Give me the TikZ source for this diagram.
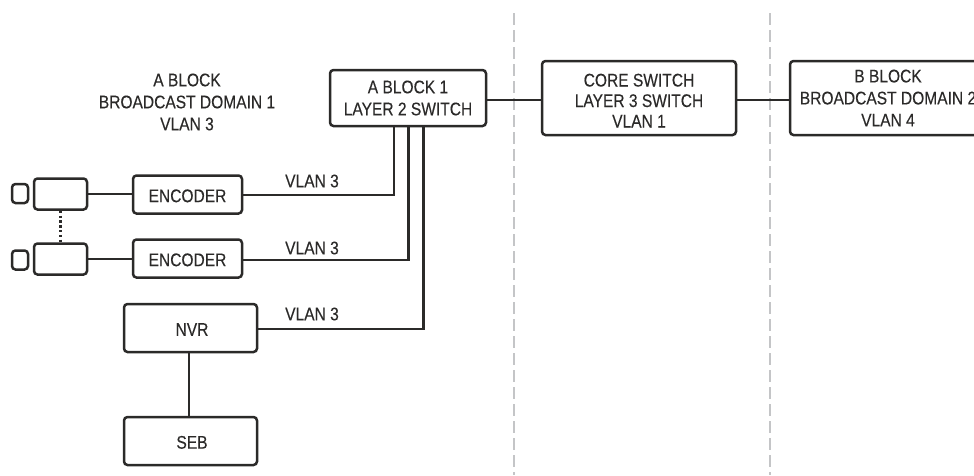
\documentclass[tikz,border=0pt]{standalone}
\usepackage{fontspec}
\setmainfont[FakeStretch=0.85,FakeBold=0.25]{Liberation Sans}
\definecolor{ink}{HTML}{2B2A29}
\definecolor{dashgray}{HTML}{C4C5C7}
\tikzset{
  labeltext/.style={text=ink,font=\fontsize{18.3pt}{22pt}\selectfont,align=center,inner sep=0pt},
  box/.style={draw=ink,line width=2.5pt,rounded corners=3.5pt,labeltext},
  onelinebox/.style={box,text height=15.5pt},
  wire/.style={draw=ink,line width=2.5pt,line join=miter},
  camdots/.style={draw=ink,line width=2.4pt,dash pattern=on 2.4pt off 2.4pt},
  divider/.style={draw=dashgray,line width=2.8pt,dash pattern=on 12pt off 5pt},
}
\begin{document}
\begin{tikzpicture}[x=1pt,y=-1pt]
\useasboundingbox (0,0) rectangle (974,475);
\clip (0,0) rectangle (974,475);
% dividers
\coordinate (d1t) at (514,13); \coordinate (d1b) at (514,475);
\coordinate (d2t) at (770,13); \coordinate (d2b) at (770,475);
\draw[divider] (d1t) -- (d1b);
\draw[divider] (d2t) -- (d2b);
% boxes
\node[box,minimum width=156pt,minimum height=56pt] (sw) at (408,98) {A BLOCK 1\\LAYER 2 SWITCH};
\node[box,minimum width=194pt,minimum height=74pt] (core) at (639,98) {\rule{0pt}{18pt}CORE SWITCH\\[-1.5pt]LAYER 3 SWITCH\\[-1.5pt]VLAN 1};
\node[box,minimum width=196pt,minimum height=74pt] (bb) at (888,98) {B BLOCK\\BROADCAST DOMAIN 2\\VLAN 4};
\node[labeltext] (ab) at (187,102) {A BLOCK\\BROADCAST DOMAIN 1\\VLAN 3};
\node[onelinebox,minimum width=109pt,minimum height=38pt] (e1) at (187.5,194.5) {ENCODER};
\node[onelinebox,minimum width=109pt,minimum height=38pt] (e2) at (187.5,258.5) {ENCODER};
\node[box,minimum width=53pt,minimum height=31pt] (c1) at (60.5,194) {};
\node[box,minimum width=53pt,minimum height=31pt] (c2) at (60.5,259) {};
\node[box,minimum width=16pt,minimum height=19pt] (l1) at (20,193.5) {};
\node[box,minimum width=16pt,minimum height=19pt] (l2) at (20,260) {};
\node[onelinebox,minimum width=133pt,minimum height=48pt] (nvr) at (190.5,328) {\hspace*{3pt}NVR};
\node[onelinebox,minimum width=133pt,minimum height=48pt] (seb) at (190.5,441) {\hspace*{3pt}SEB};
% text labels
\node[labeltext] (v1) at (312,181) {VLAN 3};
\node[labeltext] (v2) at (312,248) {VLAN 3};
\node[labeltext] (v3) at (312,314) {VLAN 3};
% connector helpers
\coordinate (t1) at (394,195);
\coordinate (t2) at (408.5,260);
\coordinate (t3) at (423.5,329);
\coordinate (h1) at (514,100);
\coordinate (h2) at (770,100);
\coordinate (nv) at (189,353);
% connectors
\draw[wire] (sw.east |- h1) -- (core.west |- h1);
\draw[wire] (core.east |- h2) -- (bb.west |- h2);
\draw[wire] (e1.east |- t1) -- (t1) -- (t1 |- sw.south);
\draw[wire] (e2.east |- t2) -- (t2) -- (t2 |- sw.south);
\draw[wire] (nvr.east |- t3) -- (t3) -- (t3 |- sw.south);
\draw[wire] (c1.east) -- (e1.west |- c1.east);
\draw[wire] (c2.east) -- (e2.west |- c2.east);
\draw[wire] (nv |- nvr.south) -- (nv |- seb.north);
\draw[camdots] (c1.south) -- (c2.north);
\end{tikzpicture}
\end{document}
